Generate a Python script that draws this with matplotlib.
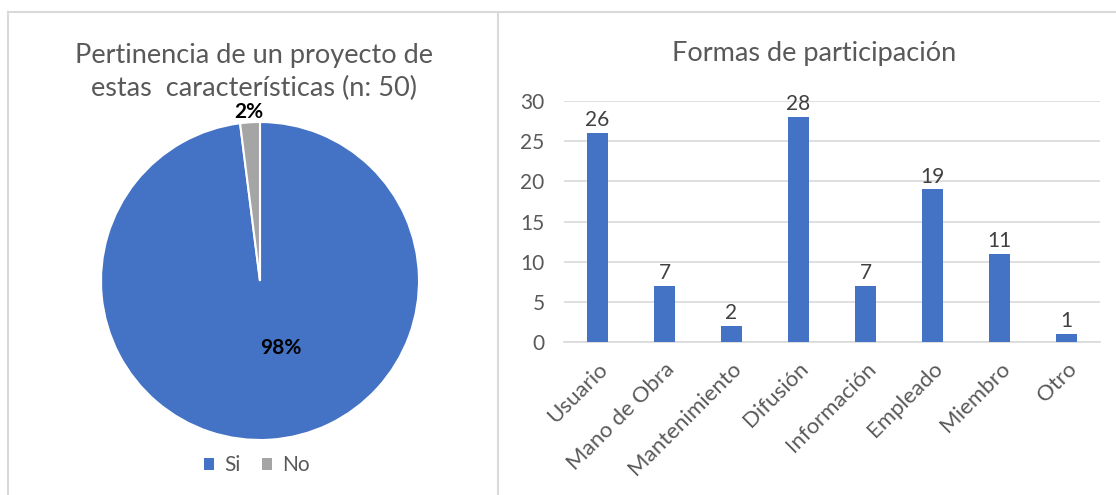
import matplotlib
matplotlib.use("Agg")
import matplotlib.pyplot as plt
from matplotlib.lines import Line2D
from matplotlib.patches import Patch

plt.rcParams['font.family'] = ['Lato', 'DejaVu Sans']

# Data
pie_labels = ["Si", "No"]
pie_values = [98, 2]
pie_colors = ["#4472C4", "#A5A5A5"]

bar_categories = ["Usuario", "Mano de Obra", "Mantenimiento", "Difusión",
                  "Información", "Empleado", "Miembro", "Otro"]
bar_values = [26, 7, 2, 28, 7, 19, 11, 1]
y_ticks = [0, 5, 10, 15, 20, 25, 30]

pie_title = "Pertinencia de un proyecto de\nestas  características (n: 50)"
bar_title = "Formas de participación"

W, H = 1116, 495
fig = plt.figure(figsize=(W / 100, H / 100), dpi=100)

def fx(px):
    return px / W

def fy(py):
    return 1 - py / H

# Panel borders (top, left, middle divider)
border = "#D9D9D9"
for xs, ys in [((8, 1116), (12, 12)), ((8, 8), (12, 494)), ((498, 498), (12, 495))]:
    fig.add_artist(Line2D([fx(v) for v in xs], [fy(v) for v in ys],
                          transform=fig.transFigure, color=border, linewidth=1.5))

# Pie chart
cx, cy, r = 260, 281, 159
axp = fig.add_axes([fx(cx - r), fy(cy + r), fx(2 * r), 2 * r / H])
wedges, texts, autotexts = axp.pie(
    pie_values, colors=pie_colors, startangle=90, counterclock=False,
    autopct=lambda p: f"{p:.0f}%", pctdistance=1.06,
    wedgeprops=dict(edgecolor="white", linewidth=1.5),
    textprops=dict(fontsize=15, fontweight="bold", color="black"))
autotexts[0].set_position((0.13, -0.42))
autotexts[1].set_va("bottom")
autotexts[1].set_position((-0.07, 1.0))
axp.set_xlim(-1, 1)
axp.set_ylim(-1, 1)
axp.set_aspect("equal")
axp.axis("off")

fig.text(fx(254), fy(72), pie_title, ha="center", va="center", fontsize=19.5,
         color="#595959", linespacing=1.4)

handles = [Patch(facecolor=c, label=l) for c, l in zip(pie_colors, pie_labels)]
fig.legend(handles=handles, loc="center", bbox_to_anchor=(fx(257), fy(465)),
           ncol=2, frameon=False, fontsize=15, handlelength=0.5, handleheight=0.5,
           handletextpad=0.5, columnspacing=1.0, labelcolor="#595959")

# Bar chart
axb = fig.add_axes([fx(564), fy(342), fx(1100 - 564), (342 - 101) / H])
x = range(len(bar_categories))
bars = axb.bar(x, bar_values, width=0.31, color="#4472C4", zorder=3)
axb.set_ylim(0, 30)
axb.set_xlim(-0.5, len(bar_categories) - 0.5)
axb.set_yticks(y_ticks)
axb.set_xticks(list(x))
axb.set_xticklabels(bar_categories, rotation=45, ha="right",
                    rotation_mode="anchor", fontsize=16, color="#595959")
axb.tick_params(axis="y", labelsize=15, labelcolor="#595959", length=0, pad=14)
axb.tick_params(axis="x", length=0, pad=12)
axb.grid(axis="y", color="#D9D9D9", linewidth=1.2, zorder=0)
for s in ["top", "right", "left"]:
    axb.spines[s].set_visible(False)
axb.spines["bottom"].set_color("#D9D9D9")
axb.spines["bottom"].set_linewidth(1.2)
axb.bar_label(bars, labels=[str(v) for v in bar_values], padding=2,
              fontsize=15, color="#404040")

fig.text(fx(814), fy(53), bar_title, ha="center", va="center", fontsize=19.5,
         color="#595959")

fig.savefig("out.png", dpi=100)
